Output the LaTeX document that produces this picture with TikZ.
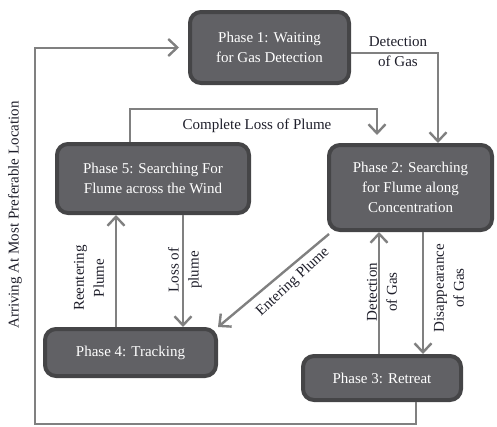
\documentclass[tikz,border=0pt]{standalone}
\usepackage{fontspec}
\setmainfont{Liberation Serif}
\usetikzlibrary{arrows.meta}
\definecolor{boxfill}{HTML}{616165}
\definecolor{boxedge}{HTML}{454547}
\definecolor{linegray}{HTML}{808080}
\definecolor{labtext}{HTML}{1E1E2A}
\tikzset{
  phase/.style={draw=boxedge, line width=4pt, fill=boxfill, rounded corners=11pt,
    text=white, align=center, inner sep=0pt, font=\fontsize{15}{20}\selectfont},
  conn/.style={draw=linegray, line width=2.4pt},
  arr/.style={conn, -{Straight Barb[length=9pt,width=17pt,line width=2.4pt]}},
  lab/.style={text=labtext, align=center, inner sep=0pt, font=\fontsize{15}{20}\selectfont}
}
\begin{document}
\begin{tikzpicture}[x=1pt,y=-1pt]
\useasboundingbox (0,0) rectangle (497,426);
\node[phase, minimum width=159pt, minimum height=71pt] (p1) at (269.5,47.5) {Phase 1: Waiting\\for Gas Detection};
\node[phase, minimum width=192pt, minimum height=69pt] (p5) at (153,178.5) {Phase 5: Searching For\\Flume across the Wind};
\node[phase, minimum width=163pt, minimum height=85pt] (p2) at (410.5,187.5) {Phase 2: Searching\\for Flume along\\Concentration};
\node[phase, minimum width=171pt, minimum height=47pt] (p4) at (130.5,352.5) {Phase 4: Tracking};
\node[phase, minimum width=158pt, minimum height=44pt] (p3) at (382,378) {Phase 3: Retreat};

% loop
\coordinate (lb) at (416,424);
\coordinate (ll) at (35,424);
\draw[arr, line width=2pt, shorten >=9pt] (p3.south -| lb) -- (lb) -- (ll) |- (p1.west);
\node[lab, rotate=90] (larr) at (15,215) {Arriving At Most Preferable Location};

% detection of gas top
\coordinate (dg) at (438,53);
\draw[arr] (p1.east |- dg) -| (p2.north -| dg);
\node[lab] (ldg) at (398,52) {Detection\\of Gas};

% complete loss
\coordinate (cl1) at (130,109);
\coordinate (cl2) at (377,109);
\draw[arr, line width=2pt, shorten >=8pt] (p5.north -| cl1) -- (cl1) -- (cl2) -- (p2.north -| cl2);
\node[lab] (lcl) at (257,126) {Complete Loss of Plume};

% 5 -> 4 loss of plume
\coordinate (lp) at (183,270);
\draw[arr] (p5.south -| lp) -- (p4.north -| lp);
\node[lab, rotate=90] (llp) at (185,270) {Loss of\\plume};

% 4 -> 5 reentering
\coordinate (rp) at (116,278);
\draw[arr] (p4.north -| rp) -- (p5.south -| rp);
\node[lab, rotate=90] (lrp) at (89,278) {Reentering\\Plume};

% 3 -> 2 detection
\coordinate (d3) at (379,292);
\draw[arr] (p3.north -| d3) -- (p2.south -| d3);
\node[lab, rotate=90] (ld3) at (382,292) {Detection\\of Gas};

% 2 -> 3 disappearance
\coordinate (dp) at (423,288);
\draw[arr] (p2.south -| dp) -- (p3.north -| dp);
\node[lab, rotate=90] (ldp) at (449,288) {Disappearance\\of Gas};

% entering plume
\draw[arr] ([shift={(2pt,-2pt)}]p2.south west) -- (p4.north east);
\node[lab, rotate=43] (lep) at (293,282) {Entering Plume};
\end{tikzpicture}
\end{document}
